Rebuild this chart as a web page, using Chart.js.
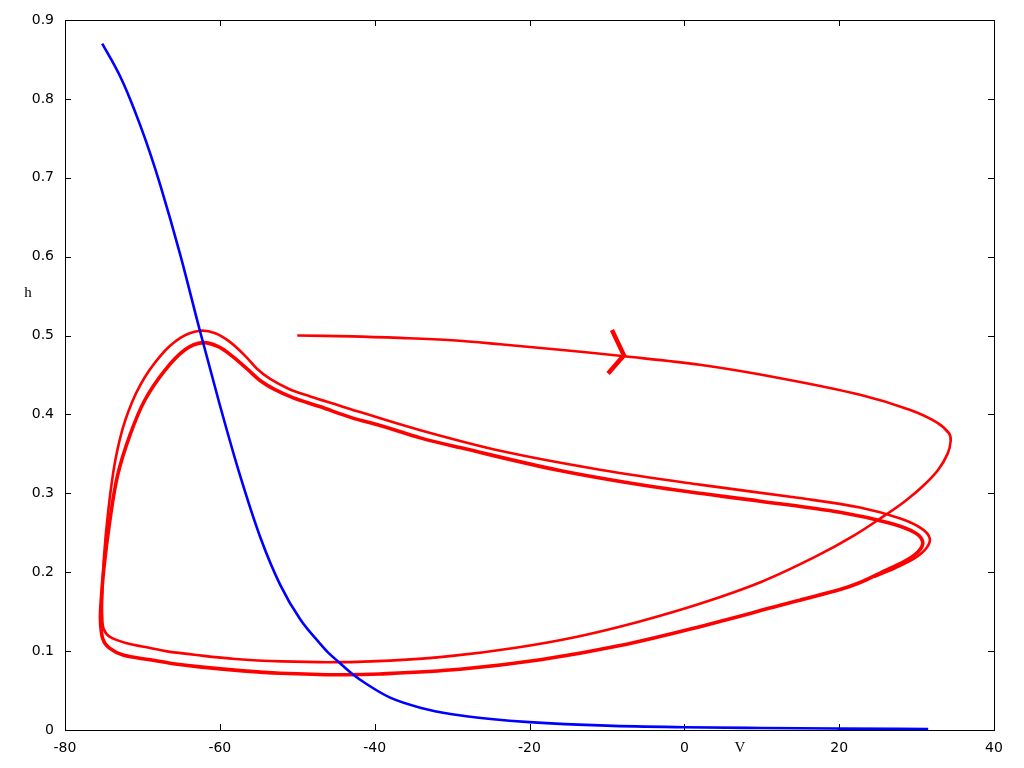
<!DOCTYPE html>
<html>
<head>
<meta charset="utf-8">
<script src="https://cdn.jsdelivr.net/npm/chart.js@4/dist/chart.umd.min.js"></script>
<style>
  html, body { margin: 0; padding: 0; background: #fff; }
  #wrap { width: 1024px; height: 768px; }
</style>
</head>
<body>
<div id="wrap"><canvas id="c" width="1024" height="768"></canvas></div>
<script>
// ---- data ----
const xTicks = [-80, -60, -40, -20, 0, 20, 40];
const yTickLabels = ["0", "0.1", "0.2", "0.3", "0.4", "0.5", "0.6", "0.7", "0.8", "0.9"];
const xLabel = "V";
const yLabel = "h";

// blue nullcline h(V)
const blueV = [-75.2, -74.2, -72.9, -71.6, -70.3, -69.0, -67.7, -65.1, -62.6, -60.0, -57.4, -54.8, -52.2, -49.6, -47.1, -46.0, -44.5, -43.0, -41.0, -38.0, -34.0, -30.0, -25.0, -20.0, -10.0, 0.0, 10.0, 20.0, 31.5];
const blueH = [0.870, 0.853, 0.829, 0.800, 0.767, 0.731, 0.691, 0.602, 0.507, 0.412, 0.323, 0.245, 0.184, 0.140, 0.110, 0.098, 0.085, 0.072, 0.058, 0.041, 0.028, 0.020, 0.014, 0.010, 0.0055, 0.0035, 0.0025, 0.0018, 0.0012];

// red trajectory: first excursion, outer loop
const redV = [-50.0, -43.0, -36.7, -30.0, -23.8, -16.1, -8.05, 2.0, 12.4, 22.7, 29.1, 32.6, 34.2, 34.4, 34.0, 32.8, 30.9, 28.5, 25.9, 22.0, 17.0, 10.0, 2.0, -6.0, -14.0, -22.0, -30.0, -38.0, -45.0, -52.0, -58.0, -63.0, -67.0, -69.0, -72.0, -74.2, -75.0, -75.2,
  -75.2, -75.0, -74.4, -73.5, -72.2, -70.3, -67.7, -65.1, -62.6, -60.6, -58.7, -56.7, -55.2, -53.5, -51.0, -48.4, -44.5, -41.9, -34.1, -23.8, -10.9, 2.0, 14.9, 22.7, 27.9, 30.7, 31.7, 31.3, 29.8, 27.2, 24.5];
const redH = [0.500, 0.499, 0.497, 0.494, 0.489, 0.482, 0.474, 0.463, 0.446, 0.425, 0.406, 0.390, 0.376, 0.366, 0.350, 0.330, 0.310, 0.290, 0.272, 0.247, 0.220, 0.188, 0.160, 0.137, 0.118, 0.104, 0.094, 0.088, 0.086, 0.087, 0.090, 0.095, 0.100, 0.104, 0.110, 0.118, 0.128, 0.145,
  0.165, 0.215, 0.279, 0.342, 0.393, 0.437, 0.474, 0.497, 0.506, 0.503, 0.492, 0.474, 0.458, 0.445, 0.432, 0.423, 0.411, 0.403, 0.380, 0.354, 0.330, 0.311, 0.294, 0.282, 0.268, 0.255, 0.243, 0.231, 0.218, 0.205, 0.194];

// red trajectory: settled limit cycle (drawn heavier)
const cycleV = [25.3, 22.7, 20.1, 12.4, 2.0, -8.3, -18.6, -29.0, -39.3, -44.5, -52.2, -57.0, -62.6, -66.0, -69.0, -72.5, -74.3, -75.1, -75.4,
  -75.4, -75.0, -74.2, -73.2, -71.6, -69.7, -67.1, -64.5, -62.2, -60.2, -58.4, -56.4, -54.8, -53.0, -50.5, -47.1, -43.0, -39.3, -34.0, -29.0, -16.1, -3.1, 9.8, 20.1, 26.6, 29.8, 30.8, 30.2, 28.5, 25.3, 22.7, 20.1, 15.0];
const cycleH = [0.199, 0.187, 0.178, 0.158, 0.131, 0.107, 0.089, 0.077, 0.071, 0.070, 0.072, 0.075, 0.080, 0.084, 0.089, 0.095, 0.104, 0.115, 0.135,
  0.152, 0.203, 0.266, 0.323, 0.374, 0.418, 0.456, 0.482, 0.491, 0.486, 0.474, 0.457, 0.443, 0.432, 0.421, 0.410, 0.396, 0.386, 0.370, 0.358, 0.329, 0.307, 0.290, 0.276, 0.262, 0.250, 0.238, 0.226, 0.214, 0.199, 0.187, 0.178, 0.165];

// direction arrow on the first excursion
const arrowV = [-9.35, -7.8, -9.85];
const arrowH = [0.507, 0.475, 0.452];

const toPts = (xs, ys) => xs.map((x, i) => ({ x: x, y: ys[i] }));

const frame = {
  id: 'frame',
  beforeDatasetsDraw(chart) {
    const { ctx, chartArea: a, scales } = chart;
    ctx.save();
    ctx.strokeStyle = '#000';
    ctx.lineWidth = 1;
    ctx.strokeRect(a.left + 0.5, a.top + 0.5, a.right - a.left, a.bottom - a.top);
    const tl = 6;
    ctx.beginPath();
    scales.x.ticks.forEach(t => {
      const px = Math.round(scales.x.getPixelForValue(t.value)) + 0.5;
      ctx.moveTo(px, a.bottom); ctx.lineTo(px, a.bottom - tl);
      ctx.moveTo(px, a.top); ctx.lineTo(px, a.top + tl);
    });
    scales.y.ticks.forEach(t => {
      const py = Math.round(scales.y.getPixelForValue(t.value)) + 0.5;
      ctx.moveTo(a.left, py); ctx.lineTo(a.left + tl, py);
      ctx.moveTo(a.right, py); ctx.lineTo(a.right - tl, py);
    });
    ctx.stroke();
    ctx.restore();
  },
  afterDraw(chart) {
    const { ctx, chartArea: a } = chart;
    ctx.save();
    ctx.fillStyle = '#000';
    ctx.font = '15px "Liberation Serif", "DejaVu Serif", serif';
    ctx.textAlign = 'center';
    ctx.textBaseline = 'middle';
    ctx.fillText(yLabel, a.left - 37, a.top + 273);
    ctx.fillText(xLabel, a.left + 675, a.bottom + 18);
    ctx.restore();
  }
};

new Chart(document.getElementById('c'), {
  type: 'scatter',
  data: {
    datasets: [
      { data: toPts(blueV, blueH), showLine: true, borderColor: '#0000ff', borderWidth: 2.6, pointRadius: 0, cubicInterpolationMode: 'monotone', fill: false },
      { data: toPts(arrowV, arrowH), showLine: true, borderColor: '#ff0000', borderWidth: 4.5, pointRadius: 0, tension: 0, fill: false },
      { data: toPts(cycleV, cycleH), showLine: true, borderColor: '#ff0000', borderWidth: 3.6, pointRadius: 0, tension: 0.35, fill: false },
      { data: toPts(redV, redH), showLine: true, borderColor: '#ff0000', borderWidth: 2.6, pointRadius: 0, tension: 0.35, fill: false }
    ]
  },
  options: {
    responsive: false,
    animation: false,
    layout: { padding: { top: 20, right: 30, left: 0, bottom: 0 } },
    plugins: { legend: { display: false }, tooltip: { enabled: false } },
    scales: {
      x: {
        type: 'linear', min: -80, max: 40,
        afterBuildTicks: s => { s.ticks = xTicks.map(v => ({ value: v })); },
        ticks: { color: '#000', font: { family: '"DejaVu Sans", sans-serif', size: 14 }, padding: 10, maxRotation: 0, autoSkip: false },
        grid: { display: true, drawOnChartArea: false, drawTicks: false },
        border: { display: false },
        afterFit: s => { s.height = 38; }
      },
      y: {
        type: 'linear', min: 0, max: 0.9,
        afterBuildTicks: s => { s.ticks = yTickLabels.map(l => ({ value: parseFloat(l) })); },
        ticks: { color: '#000', font: { family: '"DejaVu Sans", sans-serif', size: 14 }, padding: 11, autoSkip: false,
                 callback: (v, i) => yTickLabels[i] },
        grid: { display: true, drawOnChartArea: false, drawTicks: false },
        border: { display: false },
        afterFit: s => { s.width = 65; }
      }
    }
  },
  plugins: [frame]
});
</script>
</body>
</html>
